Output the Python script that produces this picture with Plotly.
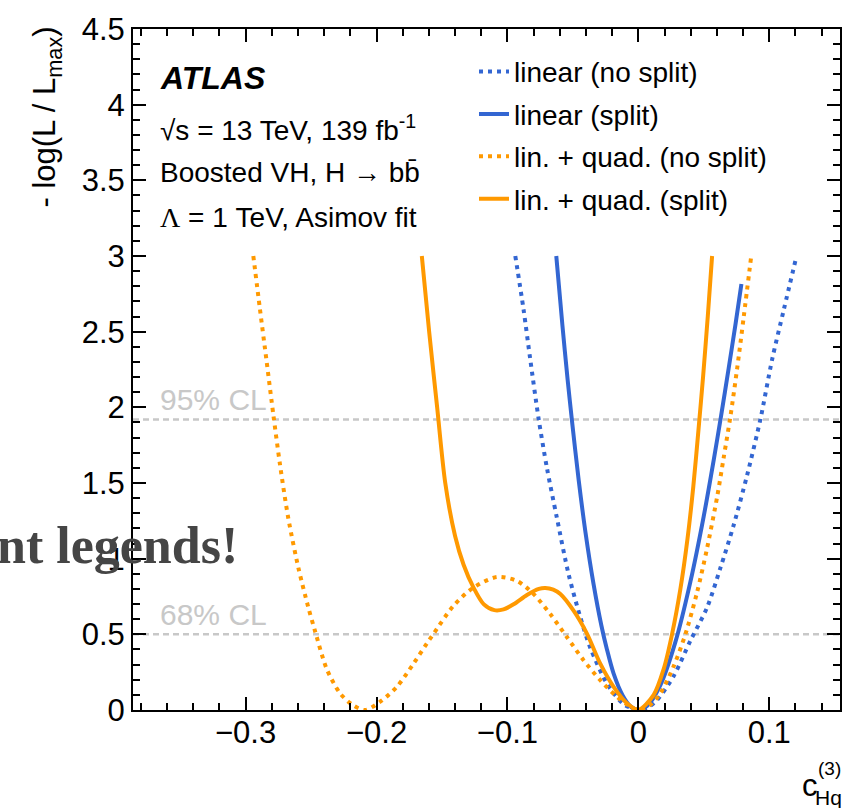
import plotly.graph_objects as go

# ---------------- data ----------------
LIN_NOSPLIT_X = [-0.0940, -0.0877, -0.0826, -0.0762, -0.0698, -0.0622, -0.0533, -0.0443, -0.0367,
                 -0.0240, -0.0112, 0.0, 0.0066, 0.0143, 0.0270, 0.0398, 0.0525, 0.0627, 0.0729,
                 0.0831, 0.0933, 0.1022, 0.1111, 0.1208]
LIN_NOSPLIT_Y = [3.00, 2.646, 2.318, 1.925, 1.597, 1.268, 0.897, 0.612, 0.410,
                 0.175, 0.038, 0.0, 0.014, 0.066, 0.225, 0.459, 0.678, 0.940, 1.225,
                 1.553, 1.925, 2.318, 2.646, 3.00]

LIN_SPLIT_X = [-0.0627, -0.0580, -0.0540, -0.0507, -0.0456, -0.0405, -0.0342, -0.0283, -0.0240,
               -0.0189, -0.0120, -0.0060, 0.0, 0.0066, 0.0168, 0.0283, 0.0398, 0.0499, 0.0576,
               0.0632, 0.0690, 0.0742, 0.0787]
LIN_SPLIT_Y = [3.00, 2.54, 2.18, 1.91, 1.52, 1.18, 0.83, 0.56, 0.40,
               0.24, 0.096, 0.024, 0.0, 0.026, 0.165, 0.45, 0.85, 1.28, 1.655,
               1.945, 2.26, 2.55, 2.815]

QUAD_NOSPLIT_X = [-0.2941, -0.2890, -0.2839, -0.2788, -0.2737, -0.2674, -0.2597, -0.2521, -0.2469,
                  -0.2380, -0.2278, -0.2177, -0.2087, -0.1972, -0.1845, -0.1718, -0.1615, -0.1565,
                  -0.1412, -0.1259, -0.1080, -0.0927, -0.0800, -0.0673, -0.0545, -0.0418, -0.0291,
                  -0.0163, -0.0061, 0.0, 0.0092, 0.0168, 0.0270, 0.0359, 0.0449, 0.0525, 0.0602,
                  0.0652, 0.0703, 0.0755, 0.0805, 0.0862]
QUAD_NOSPLIT_Y = [3.00, 2.646, 2.300, 1.950, 1.620, 1.268, 0.940, 0.678, 0.520,
                  0.270, 0.110, 0.030, 0.0, 0.055, 0.153, 0.306, 0.440, 0.503,
                  0.689, 0.809, 0.879, 0.853, 0.766, 0.634, 0.481, 0.328, 0.197,
                  0.087, 0.022, 0.0, 0.035, 0.110, 0.290, 0.500, 0.780, 1.070, 1.410,
                  1.670, 1.940, 2.260, 2.600, 3.00]

QUAD_SPLIT_X = [-0.1654, -0.1598, -0.1537, -0.1475, -0.1400, -0.1335, -0.1260, -0.1182, -0.1100,
                -0.1030, -0.0950, -0.0851, -0.0760, -0.0711, -0.0650, -0.0596, -0.0495, -0.0392,
                -0.0291, -0.0189, -0.0087, 0.0, 0.0117, 0.0193, 0.0257, 0.0321, 0.0375, 0.0420,
                0.0461, 0.0494, 0.0530, 0.0563]
QUAD_SPLIT_Y = [3.00, 2.50, 2.00, 1.50, 1.15, 0.96, 0.81, 0.70, 0.66,
                0.665, 0.70, 0.76, 0.80, 0.806, 0.795, 0.766, 0.656, 0.503,
                0.306, 0.153, 0.044, 0.0, 0.10, 0.27, 0.50, 0.80, 1.13, 1.48,
                1.87, 2.20, 2.60, 3.00]

SERIES_NAMES = ["linear (no split)", "linear (split)",
                "lin. + quad. (no split)", "lin. + quad. (split)"]

CL_VALUES = [0.5, 1.92]
CL_LABELS = ["68% CL", "95% CL"]

X_TICKS = [-0.3, -0.2, -0.1, 0, 0.1]
Y_TICKS = [0, 0.5, 1, 1.5, 2, 2.5, 3, 3.5, 4, 4.5]
X_RANGE = [-0.386, 0.154]
Y_RANGE = [0, 4.5]

# ---------------- styling ----------------
BLUE = "#3366D2"
ORANGE = "#FF9900"
FONT = "Liberation Sans, Arial, Helvetica, sans-serif"
DOT = "4px,5px"
W, H = 856, 808
L, R, T, B = 133, 16, 24, 98
PW, PH = W - L - R, H - T - B


def px_x(p):
    return (p - L) / PW


def px_y(p):
    return (H - B - p) / PH


fig = go.Figure()

series = [
    (LIN_NOSPLIT_X, LIN_NOSPLIT_Y, BLUE, DOT),
    (LIN_SPLIT_X, LIN_SPLIT_Y, BLUE, "solid"),
    (QUAD_NOSPLIT_X, QUAD_NOSPLIT_Y, ORANGE, DOT),
    (QUAD_SPLIT_X, QUAD_SPLIT_Y, ORANGE, "solid"),
]
for i, ((xs, ys, col, dash), name) in enumerate(zip(series, SERIES_NAMES)):
    fig.add_trace(go.Scatter(
        x=xs, y=ys, mode="lines", name=name, legendgroup=f"g{i}",
        line=dict(color=col, width=4, dash=dash, shape="spline", smoothing=0.8),
    ))

# CL lines and labels
for v, lab in zip(CL_VALUES, CL_LABELS):
    fig.add_shape(type="line", xref="x domain", x0=0, x1=1, yref="y", y0=v, y1=v,
                  line=dict(color="#C8C8C8", width=2.5, dash="6px,4px"), layer="below")
    fig.add_annotation(text=lab, xref="paper", x=px_x(158), xanchor="left",
                       yref="y", y=v, yanchor="bottom", yshift=1, showarrow=False,
                       font=dict(family=FONT, size=30, color="#C8C8C8"))

# ATLAS label block
fig.add_annotation(text="<b><i>ATLAS</i></b>", xref="paper", yref="paper",
                   x=px_x(158), y=px_y(73), xanchor="left", yanchor="middle",
                   showarrow=False, font=dict(family=FONT, size=32, color="black"))
info_lines = [
    ("√s = 13 TeV, 139 fb<sup>-1</sup>", 124),
    ("Boosted VH, H → bb\u0304", 169),
    ("<span style='font-family:Liberation Serif'>Λ</span> = 1 TeV, Asimov fit", 214),
]
for txt, yp in info_lines:
    fig.add_annotation(text=txt, xref="paper", yref="paper", x=px_x(158), y=px_y(yp),
                       xanchor="left", yanchor="middle", showarrow=False,
                       font=dict(family=FONT, size=28, color="black"))

# y-axis title (rotated, top aligned)
fig.add_annotation(text="- log(L / L<sub>max</sub>)", xref="paper", yref="paper",
                   x=px_x(47), y=px_y(20), xanchor="center", yanchor="top",
                   textangle=-90, showarrow=False,
                   font=dict(family=FONT, size=31, color="black"))

# x-axis title c_Hq^(3)
fig.add_annotation(text="c", xref="paper", yref="paper", x=px_x(810), y=px_y(786),
                   xanchor="center", yanchor="middle", showarrow=False,
                   font=dict(family=FONT, size=31, color="black"))
fig.add_annotation(text="(3)", xref="paper", yref="paper", x=px_x(829), y=px_y(769),
                   xanchor="center", yanchor="middle", showarrow=False,
                   font=dict(family=FONT, size=19, color="black"))
fig.add_annotation(text="Hq", xref="paper", yref="paper", x=px_x(828), y=px_y(798),
                   xanchor="center", yanchor="middle", showarrow=False,
                   font=dict(family=FONT, size=21, color="black"))

# overlaid page text
fig.add_annotation(text="<b>nt legends!</b>", xref="paper", yref="paper",
                   x=px_x(240), y=px_y(544), xanchor="right", yanchor="middle",
                   showarrow=False,
                   font=dict(family="Liberation Serif, serif", size=52, color="#454545"))

axis_common = dict(
    showline=True, linecolor="black", linewidth=2, mirror="ticks",
    ticks="inside", tickcolor="black", tickwidth=2, ticklen=13,
    showgrid=False, zeroline=False,
    tickfont=dict(family=FONT, size=31, color="black"),
)
fig.update_xaxes(range=X_RANGE, tickmode="array", tickvals=X_TICKS,
                 ticklabelstandoff=-6,
                 minor=dict(ticks="inside", ticklen=7, tickcolor="black", tickwidth=1.5,
                            tick0=0, dtick=0.02, showgrid=False),
                 **axis_common)
fig.update_yaxes(range=Y_RANGE, tickmode="array", tickvals=Y_TICKS,
                 ticktext=[f"{v:g}" for v in Y_TICKS],
                 minor=dict(ticks="inside", ticklen=7, tickcolor="black", tickwidth=1.5,
                            tick0=0, dtick=0.1, showgrid=False),
                 **axis_common)

fig.update_layout(
    width=W, height=H, margin=dict(l=L, r=R, t=T, b=B, pad=0),
    paper_bgcolor="white", plot_bgcolor="white",
    showlegend=True,
    legend=dict(x=px_x(474), y=px_y(42), xanchor="left", yanchor="top",
                bgcolor="rgba(0,0,0,0)", borderwidth=0, tracegroupgap=3,
                font=dict(family=FONT, size=28, color="black"), itemwidth=30),
)

fig.write_html("out.html")
